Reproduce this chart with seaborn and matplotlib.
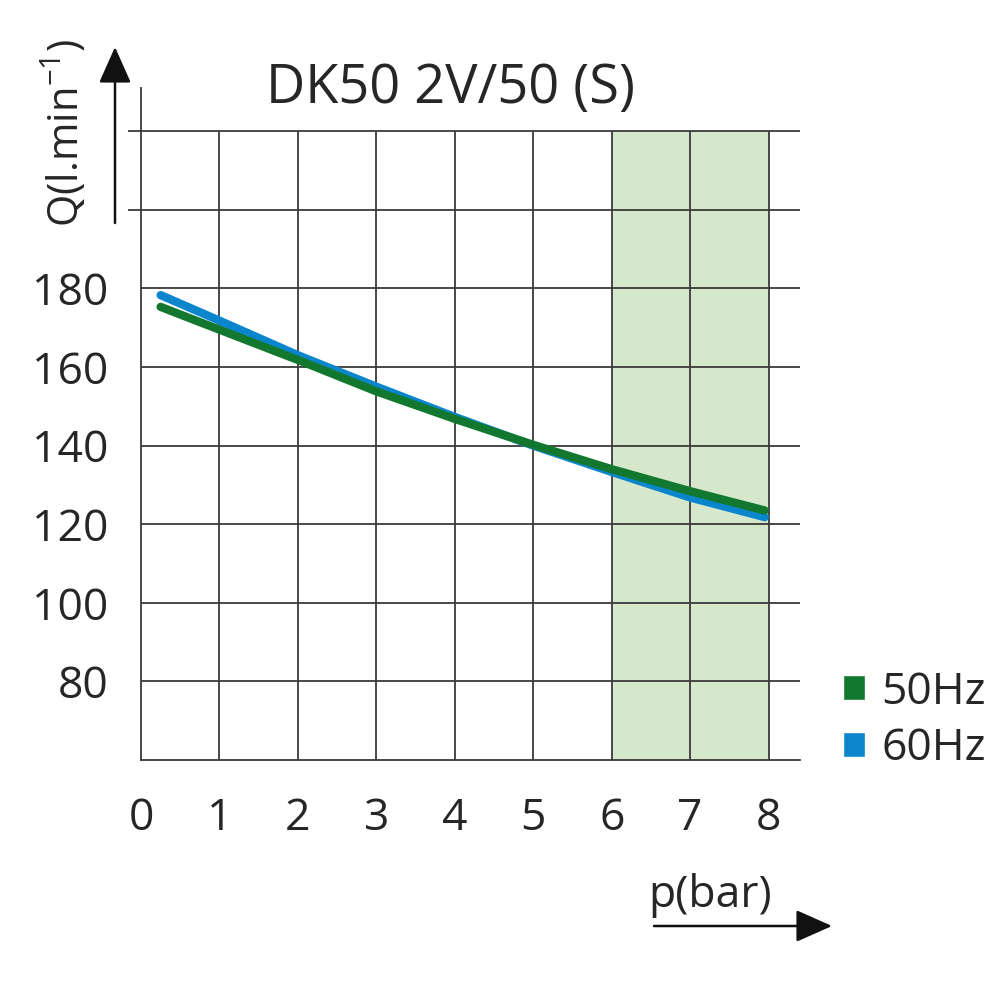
import pandas as pd
import matplotlib
matplotlib.use("Agg")
import matplotlib.pyplot as plt
import seaborn as sns
from matplotlib.patches import Patch, FancyArrowPatch

# --- DATA ---
pressure = [0.25, 1, 2, 3, 4, 5, 6, 7, 7.95]
flow_50hz = [175.3, 169.5, 161.8, 153.8, 146.8, 140.2, 134.0, 128.4, 123.5]
flow_60hz = [178.3, 171.8, 163.0, 155.0, 147.3, 140.0, 133.3, 126.8, 121.8]
series_labels = ['50Hz', '60Hz']
x_ticks = [0, 1, 2, 3, 4, 5, 6, 7, 8]
y_ticks = [80, 100, 120, 140, 160, 180]
y_minor = [200, 220]
title = 'DK50 2V/50 (S)'

df = pd.concat([
    pd.DataFrame({'p': pressure, 'Q': flow_50hz, 'freq': series_labels[0]}),
    pd.DataFrame({'p': pressure, 'Q': flow_60hz, 'freq': series_labels[1]}),
])

sns.set_style('white')
plt.rcParams['font.family'] = ['Open Sans', 'DejaVu Sans']
plt.rcParams['mathtext.fontset'] = 'custom'
plt.rcParams['mathtext.rm'] = 'Open Sans'

grid_c = '#3a3a3a'
green = '#13782f'
blue = '#0b86cc'
shade = '#d5e8cc'

fig = plt.figure(figsize=(10, 10), dpi=100)
ax = fig.add_axes([0.141, 0.24, 0.659, 0.672])
ax.set_xlim(0, 8.4)
ax.set_ylim(60, 231)

# shaded zone 6..8 bar
ax.axvspan(6, 8, ymin=0, ymax=(220 - 60) / (231 - 60), color=shade, lw=0, zorder=0)

# grid
ax.set_yticks(y_ticks)
ax.set_yticks(y_minor, minor=True)
ax.grid(axis='y', which='both', color=grid_c, lw=1.3, zorder=1)
ax.vlines(x_ticks[1:], 60, 220, color=grid_c, lw=1.3, zorder=1)

sns.lineplot(data=df, x='p', y='Q', hue='freq', hue_order=series_labels[::-1],
             palette={series_labels[0]: green, series_labels[1]: blue},
             lw=6, legend=False, ax=ax, zorder=3)

for s in ['top', 'right']:
    ax.spines[s].set_visible(False)
for s in ['left', 'bottom']:
    ax.spines[s].set_color(grid_c)
    ax.spines[s].set_linewidth(1.3)

ax.set_xticks(x_ticks)
ax.tick_params(axis='x', which='major', direction='out', length=20, width=1.3,
               color=grid_c, labelsize=32, pad=6)
ax.tick_params(axis='y', which='major', direction='out', length=18.5, width=1.3,
               color=grid_c, labelsize=32, pad=5)
ax.tick_params(axis='y', which='minor', direction='out', length=9.5, width=1.3,
               color=grid_c, left=True)
ax.xaxis.get_major_ticks()[0].tick1line.set_visible(False)
ax.set_xlabel('')
ax.set_ylabel('')

# titles and axis labels
fig.text(0.451, 0.897, title, ha='center', va='baseline', fontsize=39, weight='medium')
fig.text(0.065, 0.867, 'Q(l.min$^{-1}$)', rotation=90, ha='center', va='center', fontsize=30)
fig.text(0.710, 0.093, 'p(bar)', ha='center', va='baseline', fontsize=32)

# axis arrows
arrow = dict(arrowstyle='-|>,head_length=0.9,head_width=0.4', color='#111111', lw=1.8,
             mutation_scale=25, shrinkA=0, shrinkB=0)
fig.add_artist(FancyArrowPatch((0.115, 0.777), (0.115, 0.953),
                               transform=fig.transFigure, **arrow))
fig.add_artist(FancyArrowPatch((0.654, 0.074), (0.832, 0.074),
                               transform=fig.transFigure, **arrow))

handles = [Patch(facecolor=green, label=series_labels[0]),
           Patch(facecolor=blue, label=series_labels[1])]
fig.legend(handles=handles, loc='upper left', bbox_to_anchor=(0.843, 0.33),
           frameon=False, fontsize=32, handlelength=0.5, handleheight=0.5,
           handletextpad=0.36, labelspacing=0.27, borderpad=0, borderaxespad=0)

fig.savefig('out.png', dpi=100)
